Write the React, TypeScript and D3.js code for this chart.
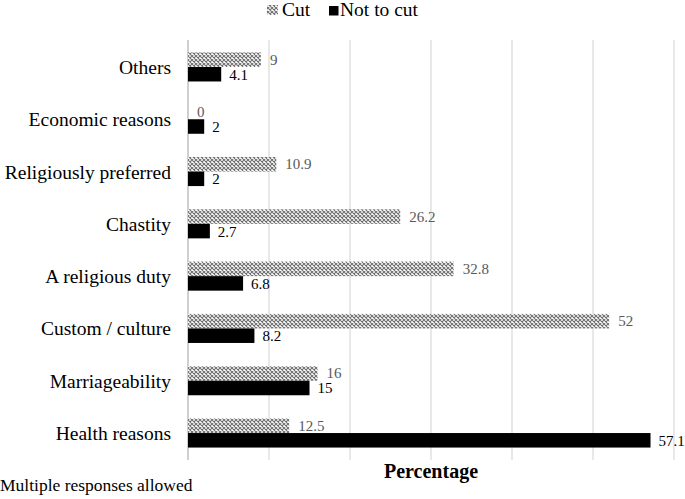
import React from 'react';
import * as d3 from 'd3';

const categories = [
  'Others',
  'Economic reasons',
  'Religiously preferred',
  'Chastity',
  'A religious duty',
  'Custom / culture',
  'Marriageability',
  'Health reasons',
];
const cutValues = [9, 0, 10.9, 26.2, 32.8, 52, 16, 12.5];
const notCutValues = [4.1, 2, 2, 2.7, 6.8, 8.2, 15, 57.1];
const gridTicks = [0, 10, 20, 30, 40, 50, 60];

const W = 685;
const H = 499;
const font = '"Liberation Serif", "Times New Roman", "DejaVu Serif", serif';

const App: React.FC = () => {
  const x = d3.scaleLinear().domain([0, 60]).range([188, 674]);
  const y = d3
    .scaleBand<string>()
    .domain(categories)
    .range([40, 460])
    .paddingInner(0.445)
    .paddingOuter(0.238);
  const sub = d3
    .scaleBand<string>()
    .domain(['cut', 'not'])
    .range([0, y.bandwidth()]);

  return (
    <svg
      width={W}
      height={H}
      style={{ position: 'absolute', left: 0, top: 0, background: '#fff' }}
      fontFamily={font}
    >
      <defs>
        <pattern id="hatch" width="4" height="4" patternUnits="userSpaceOnUse">
          <rect width="4" height="4" fill="#fff" />
          <path d="M0,0 L4,4 M4,0 L0,4" stroke="#707070" strokeWidth="1.1" />
        </pattern>
      </defs>

      {gridTicks.map((t) => (
        <line key={t} x1={x(t)} x2={x(t)} y1={40} y2={460} stroke="#d9d9d9" strokeWidth={1.2} />
      ))}
      <line x1={x(0)} x2={x(0)} y1={40} y2={460} stroke="#bfbfbf" strokeWidth={1.2} />

      {categories.map((c, i) => {
        const y0 = y(c) as number;
        const yc = y0 + sub('cut')!;
        const yn = y0 + sub('not')!;
        const bh = sub.bandwidth();
        return (
          <g key={c}>
            <rect x={x(0)} y={yc} width={x(cutValues[i]) - x(0)} height={bh} fill="url(#hatch)" />
            <rect x={x(0)} y={yn} width={x(notCutValues[i]) - x(0)} height={bh} fill="#000" />
            <text x={x(cutValues[i]) + 9} y={yc + bh / 2 + 5} fontSize={15} fill="#595959">
              {cutValues[i]}
            </text>
            <text x={x(notCutValues[i]) + 8} y={yn + bh / 2 + 5.5} fontSize={15} fill="#000">
              {notCutValues[i]}
            </text>
            <text x={171} y={y0 + y.bandwidth() / 2 + 7} textAnchor="end" fontSize={19.5} fill="#000">
              {c}
            </text>
          </g>
        );
      })}

      <text x={431} y={478} textAnchor="middle" fontSize={20} fontWeight="bold">
        Percentage
      </text>
      <text x={0} y={491} fontSize={17.5}>
        Multiple responses allowed
      </text>

      <g>
        <rect x={267} y={5} width={11} height={10} fill="url(#hatch)" />
        <text x={282} y={16} fontSize={19.5}>Cut</text>
        <rect x={329} y={6} width={9.5} height={9.5} fill="#000" />
        <text x={340} y={16} fontSize={19.5}>Not to cut</text>
      </g>
    </svg>
  );
};

export default App;
